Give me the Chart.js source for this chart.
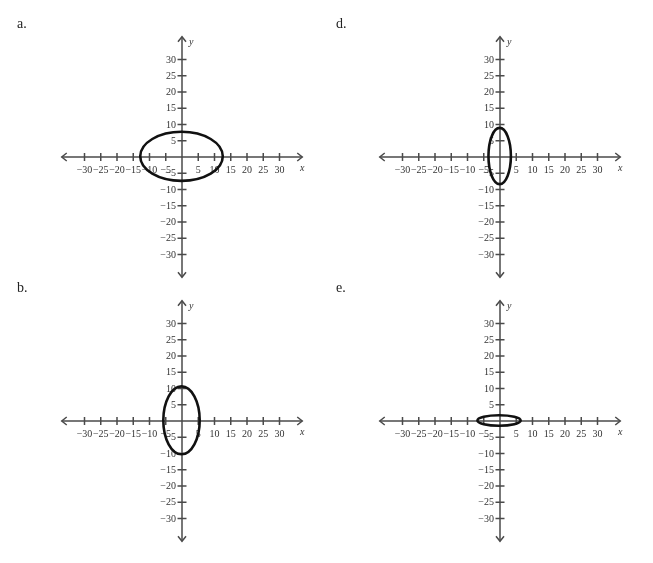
<!DOCTYPE html>
<html lang="en">
<head>
    <meta charset="utf-8">
    <title>Ellipses a, d, b, e</title>
    <script src="https://cdn.jsdelivr.net/npm/chart.js@4/dist/chart.umd.min.js"></script>
    <style>
        body {
            margin: 0;
            width: 653px;
            height: 563px;
            position: relative;
            overflow: hidden;
            background: #fff;
            font-family: "Liberation Serif", serif;
        }
        .panel {
            position: absolute;
        }
        .letter {
            position: absolute;
            font-size: 14px;
            line-height: 14px;
            color: #222;
        }
    </style>
</head>
<body>
    <script>
        // panel letters, in the order a, d, b, e (left-right, top-bottom)
        const panelLetters = ['a.', 'd.', 'b.', 'e.'];

        // tick values on both axes (0 is not labelled)
        const tickValues = [-30, -25, -20, -15, -10, -5, 5, 10, 15, 20, 25, 30];
        const tickLabels = ['\u221230', '\u221225', '\u221220', '\u221215', '\u221210', '\u22125',
                            '5', '10', '15', '20', '25', '30'];

        // the axes run out to about +-37 before the arrow heads
        const axisEnd = 37;

        // ellipse: centre and half-widths
        const ellipseCx = [-0.15, -0.1, -0.15, -0.3];
        const ellipseCy = [0.2, 0.3, 0.2, 0.15];
        const ellipseRx = [12.7, 3.45, 5.6, 6.65];
        const ellipseRy = [7.55, 8.65, 10.45, 1.6];

        // where each origin sits on the page, and pixels per unit
        const origins = [[182, 156.5], [500.3, 156.5], [182, 420.8], [500.3, 420.8]];
        const unit = 3.25;
        const halfW = 160, halfH = 140;

        const axisColor = '#4a4a4a';
        const textColor = '#333';

        const letterPos = [[17, 17], [336, 17], [17, 281], [336, 281]];

        const axesPlugin = {
            id: 'axesPlugin',
            afterDatasetsDraw(chart) {
                const ctx = chart.ctx;
                const xs = chart.scales.x, ys = chart.scales.y;
                const x0 = xs.getPixelForValue(0), y0 = ys.getPixelForValue(0);
                const idx = chart.options.plugins.axesPlugin.index;

                ctx.save();
                ctx.strokeStyle = axisColor;
                ctx.lineWidth = 1.5;

                // arrow heads
                const ends = [
                    [xs.getPixelForValue(-axisEnd), y0, 1, 0],
                    [xs.getPixelForValue(axisEnd), y0, -1, 0],
                    [x0, ys.getPixelForValue(axisEnd), 0, 1],
                    [x0, ys.getPixelForValue(-axisEnd), 0, -1]
                ];
                ends.forEach(([px, py, dx, dy]) => {
                    ctx.beginPath();
                    ctx.moveTo(px + dx * 5 + dy * 4, py + dy * 5 + dx * 4);
                    ctx.lineTo(px, py);
                    ctx.lineTo(px + dx * 5 - dy * 4, py + dy * 5 - dx * 4);
                    ctx.stroke();
                });

                // tick marks and labels
                ctx.font = '10px "Liberation Serif", serif';
                ctx.fillStyle = textColor;
                tickValues.forEach((v, i) => {
                    const px = xs.getPixelForValue(v);
                    const py = ys.getPixelForValue(v);
                    ctx.beginPath();
                    ctx.moveTo(px, y0 - 4);
                    ctx.lineTo(px, y0 + 4);
                    ctx.moveTo(x0 - 4.5, py);
                    ctx.lineTo(x0 + 4.5, py);
                    ctx.stroke();

                    ctx.textAlign = 'center';
                    ctx.textBaseline = 'middle';
                    ctx.fillText(tickLabels[i], px, y0 + 13);
                    ctx.textAlign = 'right';
                    ctx.fillText(tickLabels[i], x0 - 6, py + 0.5);
                });

                // axis names
                ctx.font = 'italic 10px "Liberation Serif", serif';
                ctx.textAlign = 'left';
                ctx.fillText('y', x0 + 7, ys.getPixelForValue(axisEnd) + 6);
                ctx.textAlign = 'center';
                ctx.fillText('x', xs.getPixelForValue(axisEnd), y0 + 11);

                // the ellipse
                const cx = xs.getPixelForValue(ellipseCx[idx]);
                const cy = ys.getPixelForValue(ellipseCy[idx]);
                const rx = Math.abs(xs.getPixelForValue(ellipseRx[idx]) - xs.getPixelForValue(0));
                const ry = Math.abs(ys.getPixelForValue(ellipseRy[idx]) - ys.getPixelForValue(0));
                ctx.strokeStyle = '#111';
                ctx.lineWidth = 2.6;
                ctx.beginPath();
                ctx.ellipse(cx, cy, rx, ry, 0, 0, Math.PI * 2);
                ctx.stroke();
                ctx.restore();
            }
        };

        origins.forEach(([ox, oy], i) => {
            const canvas = document.createElement('canvas');
            canvas.className = 'panel';
            canvas.width = halfW * 2;
            canvas.height = halfH * 2;
            canvas.style.left = (ox - halfW) + 'px';
            canvas.style.top = (oy - halfH) + 'px';
            canvas.style.width = halfW * 2 + 'px';
            canvas.style.height = halfH * 2 + 'px';
            document.body.appendChild(canvas);

            const letter = document.createElement('div');
            letter.className = 'letter';
            letter.textContent = panelLetters[i];
            letter.style.left = letterPos[i][0] + 'px';
            letter.style.top = letterPos[i][1] + 'px';
            document.body.appendChild(letter);

            new Chart(canvas, {
                type: 'scatter',
                data: {
                    datasets: [
                        {
                            data: [{ x: -axisEnd, y: 0 }, { x: axisEnd, y: 0 }],
                            showLine: true,
                            borderColor: axisColor,
                            borderWidth: 1.5,
                            pointRadius: 0
                        },
                        {
                            data: [{ x: 0, y: -axisEnd }, { x: 0, y: axisEnd }],
                            showLine: true,
                            borderColor: axisColor,
                            borderWidth: 1.5,
                            pointRadius: 0
                        }
                    ]
                },
                options: {
                    responsive: false,
                    animation: false,
                    events: [],
                    layout: { padding: 0 },
                    scales: {
                        x: { type: 'linear', min: -halfW / unit, max: halfW / unit, display: false },
                        y: { type: 'linear', min: -halfH / unit, max: halfH / unit, display: false }
                    },
                    plugins: {
                        legend: { display: false },
                        tooltip: { enabled: false },
                        axesPlugin: { index: i }
                    }
                },
                plugins: [axesPlugin]
            });
        });
    </script>
</body>
</html>
